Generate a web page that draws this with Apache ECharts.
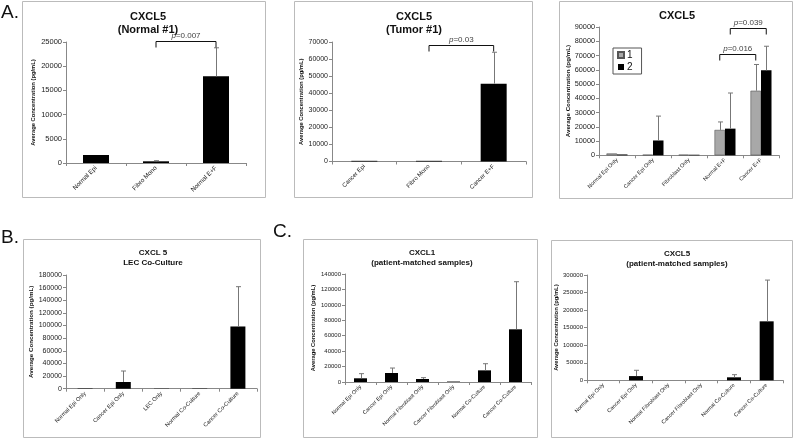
<!DOCTYPE html>
<html><head><meta charset="utf-8">
<script src="https://cdn.jsdelivr.net/npm/echarts@6/dist/echarts.min.js"></script>
<style>html,body{margin:0;padding:0;background:#fff}#c{width:794px;height:439px}</style>
</head><body><div id="c"></div>
<script>
// ---------------- DATA ----------------
const p1Cats = ['Normal Epi', 'Fibro Mono', 'Normal E+F'];
const p1Vals = [1650, 350, 17900];
const p1ErrTop = [null, 480, 23800];
const p1Brackets = [[1, 0, 2, 0, 25200]];
const p1PLabels = ['0.007'];

const p2Cats = ['Cancer Epi', 'Fibro Mono', 'Cancer E+F'];
const p2Vals = [400, 400, 45600];
const p2ErrTop = [null, null, 64000];
const p2Brackets = [[1, 0, 2, 0, 68500]];
const p2PLabels = ['0.03'];

const p3Cats = ['Normal Epi Only', 'Cancer Epi Only', 'Fibroblast Only', 'Normal E+F', 'Cancer E+F'];
const p3Series1 = [1300, 400, 400, 17800, 45300];
const p3Series1ErrTop = [null, null, null, 23400, 63700];
const p3Series2 = [600, 10400, 400, 18700, 59600];
const p3Series2ErrTop = [null, 27500, null, 43700, 76500];
const p3Brackets = [[3, -1, 4, -1, 71200], [3, 1, 4, 1, 89300]];
const p3PLabels = ['0.016', '0.039'];

const bCats = ['Normal Epi Only', 'Cancer Epi Only', 'LEC Only', 'Normal Co-Culture', 'Cancer Co-Culture'];
const bVals = [600, 10600, 400, 500, 98500];
const bErrTop = [null, 28000, null, null, 161500];

const cCats = ['Normal Epi Only', 'Cancer Epi Only', 'Normal Fibroblast Only', 'Cancer Fibroblast Only', 'Normal Co-Culture', 'Cancer Co-Culture'];
const c1Vals = [4800, 11700, 3900, 600, 15100, 68300];
const c1ErrTop = [10800, 18100, 5600, null, 23700, 130000];
const c2Vals = [0, 12000, 0, 0, 8500, 168000];
const c2ErrTop = [null, 28500, null, null, 16000, 285500];

const yName = 'Average Concentration (pg/mL)';

// ---------------- BUILD ----------------
const FONT = 'Liberation Sans, Arial, sans-serif';
const grids = [], xAxes = [], yAxes = [], series = [], graphics = [];

function errRender(halfOffset) {
  return function (params, api) {
    const cat = api.value(0), v = api.value(1), top = api.value(2), side = api.value(3);
    const p0 = api.coord([cat, v]);
    const p1 = api.coord([cat, top]);
    const x = Math.round(p0[0] + side * halfOffset) + 0.5;
    return {
      type: 'group', children: [
        { type: 'line', shape: { x1: x, y1: p0[1], x2: x, y2: p1[1] }, style: { stroke: '#777', lineWidth: 1 } },
        { type: 'line', shape: { x1: x - 2.5, y1: p1[1], x2: x + 2.5, y2: p1[1] }, style: { stroke: '#777', lineWidth: 1 } }
      ]
    };
  };
}
function bracketRender(labels, halfOffset) {
  return function (params, api) {
    const a = api.coord([api.value(0), api.value(4)]);
    const b = api.coord([api.value(2), api.value(4)]);
    const xa = a[0] + api.value(1) * halfOffset;
    const xb = b[0] + api.value(3) * halfOffset;
    const y = Math.round(a[1]) + 0.5;
    const st = { stroke: '#111', lineWidth: 1 };
    return {
      type: 'group', children: [
        { type: 'line', shape: { x1: xa, y1: y, x2: xb, y2: y }, style: st },
        { type: 'line', shape: { x1: xa, y1: y, x2: xa, y2: y + 6 }, style: st },
        { type: 'line', shape: { x1: xb, y1: y, x2: xb, y2: y + 6 }, style: st },
        { type: 'text', x: (xa + xb) / 2, y: y - 2, style: {
            text: '{i|p}=' + labels[params.dataIndex], align: 'center', verticalAlign: 'bottom',
            fontSize: 8, fontFamily: FONT, fill: '#444',
            rich: { i: { fontStyle: 'italic', fontSize: 8, fontFamily: FONT, fill: '#444' } } } }
      ]
    };
  };
}

function addPanel(cfg) {
  const gi = grids.length;
  grids.push({ left: cfg.grid[0], top: cfg.grid[1], width: cfg.grid[2], height: cfg.grid[3], containLabel: false });
  xAxes.push({
    type: 'category', gridIndex: gi, data: cfg.cats,
    axisLine: { lineStyle: { color: '#888', width: 1 } },
    axisTick: { show: true, alignWithLabel: false, interval: 0, length: 3, lineStyle: { color: '#888' } },
    axisLabel: { rotate: 45, interval: 0, fontSize: cfg.catFont, color: '#222', fontFamily: FONT, margin: 4 },
    splitLine: { show: false }
  });
  yAxes.push({
    type: 'value', gridIndex: gi, min: 0, max: cfg.max, interval: cfg.interval,
    name: yName, nameLocation: 'middle', nameRotate: 90, nameGap: cfg.nameGap,
    nameTextStyle: { fontSize: cfg.nameFont, fontWeight: 'bold', color: '#111', fontFamily: FONT },
    axisLine: { show: true, lineStyle: { color: '#888', width: 1 } },
    axisTick: { show: true, length: 3, lineStyle: { color: '#888' } },
    axisLabel: { fontSize: cfg.yFont, color: '#222', fontFamily: FONT, margin: 4, formatter: v => String(v) },
    splitLine: { show: false }
  });
  const half = cfg.bars.length > 1 ? cfg.barWidth / 2 : 0;
  cfg.bars.forEach((b, k) => {
    series.push({
      type: 'bar', name: b.name, xAxisIndex: gi, yAxisIndex: gi, data: b.vals,
      barWidth: cfg.barWidth, barGap: '0%',
      itemStyle: { color: b.color, borderColor: b.border || null, borderWidth: b.border ? 0.6 : 0 },
      animation: false
    });
    const side = cfg.bars.length > 1 ? (k === 0 ? -1 : 1) : 0;
    const ed = b.err.map((t, i) => t == null ? null : [i, b.vals[i], t, side]).filter(Boolean);
    series.push({
      type: 'custom', xAxisIndex: gi, yAxisIndex: gi, data: ed, renderItem: errRender(half),
      encode: { x: 0, y: [1, 2] }, clip: false, z: 5, animation: false, silent: true
    });
  });
  if (cfg.brackets) {
    series.push({
      type: 'custom', xAxisIndex: gi, yAxisIndex: gi, data: cfg.brackets,
      renderItem: bracketRender(cfg.pLabels, half), encode: { x: 0, y: 4 },
      clip: false, z: 6, animation: false, silent: true
    });
  }
  graphics.push({ type: 'rect', shape: { x: cfg.box[0] + 0.5, y: cfg.box[1] + 0.5, width: cfg.box[2], height: cfg.box[3] },
    style: { fill: null, stroke: '#bbb', lineWidth: 1 }, z: -1 });
  graphics.push({ type: 'text', x: cfg.title[0], y: cfg.title[1], style: {
    text: cfg.titleText, fontSize: cfg.titleFont, fontWeight: 'bold', fontFamily: FONT, fill: '#111',
    align: 'center', verticalAlign: 'top', lineHeight: cfg.titleLH } });
}

addPanel({ cats: p1Cats, bars: [{ name: 'A1', vals: p1Vals, err: p1ErrTop, color: '#000' }],
  grid: [66, 42, 180, 121], max: 25000, interval: 5000, barWidth: 26,
  box: [22, 1, 243, 196], title: [148, 10], titleText: 'CXCL5\n(Normal #1)', titleFont: 11, titleLH: 13.5,
  catFont: 6.3, yFont: 7.5, nameFont: 5.8, nameGap: 30, brackets: p1Brackets, pLabels: p1PLabels });

addPanel({ cats: p2Cats, bars: [{ name: 'A2', vals: p2Vals, err: p2ErrTop, color: '#000' }],
  grid: [332, 42, 194, 119.5], max: 70000, interval: 10000, barWidth: 26,
  box: [294, 1, 238, 196], title: [414, 10], titleText: 'CXCL5\n(Tumor #1)', titleFont: 11, titleLH: 13.5,
  catFont: 6, yFont: 7, nameFont: 5.8, nameGap: 27, brackets: p2Brackets, pLabels: p2PLabels });

addPanel({ cats: p3Cats, bars: [
    { name: '1', vals: p3Series1, err: p3Series1ErrTop, color: '#a8a8a8', border: '#555' },
    { name: '2', vals: p3Series2, err: p3Series2ErrTop, color: '#000' }],
  grid: [599, 27, 180, 128.3], max: 90000, interval: 10000, barWidth: 10.5,
  box: [559, 1, 233, 197], title: [677, 9], titleText: 'CXCL5', titleFont: 11, titleLH: 13.5,
  catFont: 5.5, yFont: 7.3, nameFont: 6.2, nameGap: 27, brackets: p3Brackets, pLabels: p3PLabels });

addPanel({ cats: bCats, bars: [{ name: 'B', vals: bVals, err: bErrTop, color: '#000' }],
  grid: [66, 275, 191, 113.7], max: 180000, interval: 20000, barWidth: 15,
  box: [23, 239, 237, 198], title: [153, 247.5], titleText: 'CXCL 5\nLEC Co-Culture', titleFont: 8, titleLH: 10,
  catFont: 5.7, yFont: 7, nameFont: 6.2, nameGap: 31 });

addPanel({ cats: cCats, bars: [{ name: 'C1', vals: c1Vals, err: c1ErrTop, color: '#000' }],
  grid: [345, 274, 186, 108], max: 140000, interval: 20000, barWidth: 13,
  box: [303, 239, 234, 198], title: [422, 247.5], titleText: 'CXCL1\n(patient-matched samples)', titleFont: 8, titleLH: 10,
  catFont: 5.4, yFont: 6, nameFont: 5.8, nameGap: 29 });

addPanel({ cats: cCats, bars: [{ name: 'C2', vals: c2Vals, err: c2ErrTop, color: '#000' }],
  grid: [587, 275, 196, 105.3], max: 300000, interval: 50000, barWidth: 14,
  box: [551, 240, 241, 197], title: [677, 248.5], titleText: 'CXCL5\n(patient-matched samples)', titleFont: 8, titleLH: 10,
  catFont: 5.4, yFont: 6, nameFont: 5.8, nameGap: 24 });

// panel letters
[['A.', 1, 3], ['B.', 1, 228], ['C.', 273, 222]].forEach(l => {
  graphics.push({ type: 'text', x: l[1], y: l[2], style: { text: l[0], fontSize: 19, fontFamily: FONT, fill: '#111' } });
});

const chart = echarts.init(document.getElementById('c'), null, { renderer: 'canvas' });
chart.setOption({
  animation: false,
  backgroundColor: '#fff',
  grid: grids, xAxis: xAxes, yAxis: yAxes, series: series, graphic: graphics,
  legend: {
    data: ['1', '2'], orient: 'vertical', left: 613, top: 48, itemWidth: 6, itemHeight: 6, itemGap: 2,
    icon: 'rect', borderColor: '#555', borderWidth: 1, padding: [2, 9, 2, 4],
    textStyle: { fontSize: 10, fontFamily: FONT, color: '#111', padding: [0, 0, 0, -2] },
    selectedMode: false
  }
});
</script></body></html>
